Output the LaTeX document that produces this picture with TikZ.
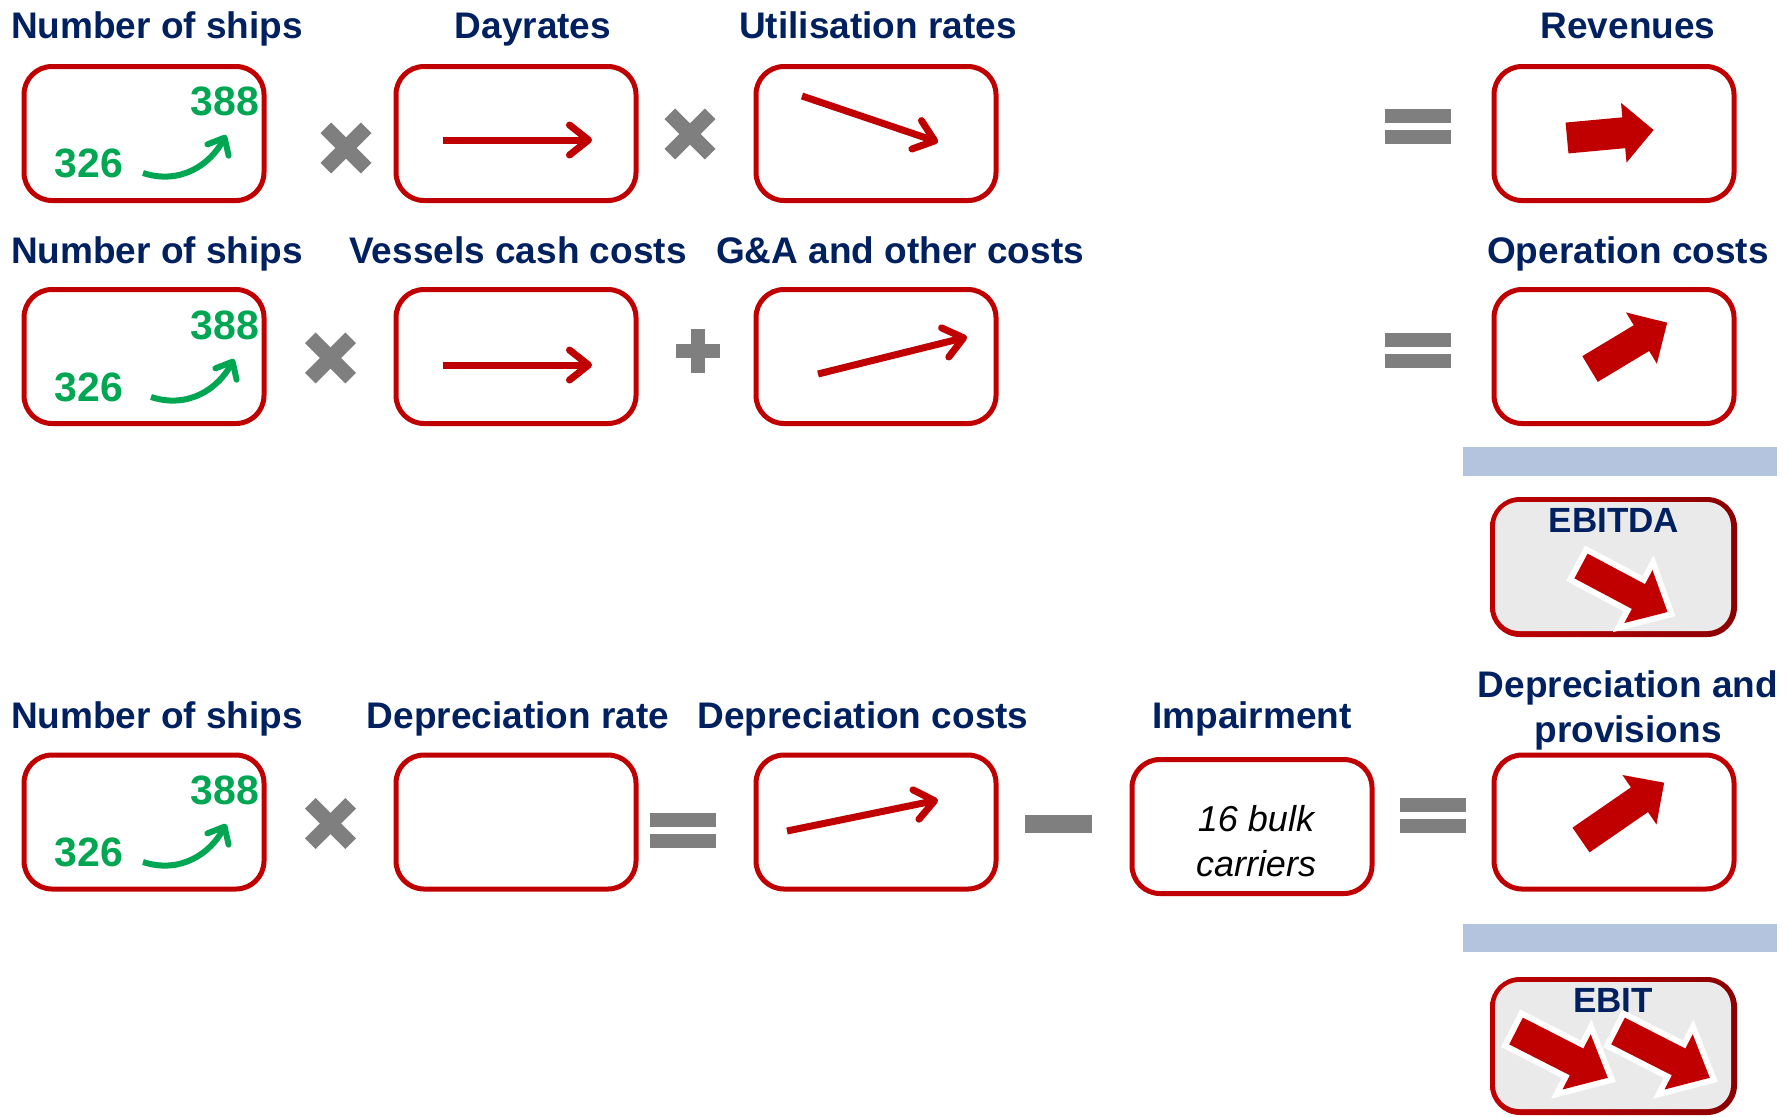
\documentclass[tikz,border=0pt]{standalone}
\usepackage{fontspec}
\setmainfont{Liberation Sans}
\usetikzlibrary{arrows.meta}
\definecolor{cred}{HTML}{C00000}
\definecolor{darkred}{HTML}{8A0000}
\definecolor{navy}{HTML}{002060}
\definecolor{cgreen}{HTML}{00A651}
\definecolor{opgray}{HTML}{7F7F7F}
\definecolor{barblue}{HTML}{B4C4DF}
\definecolor{boxgray}{HTML}{EAEAEA}
\newcommand\blkarrow[8]{%
  \path[#8, shift={(#1,#2)}, rotate=#3] (0,-#5/2) -- ({#4-#7},-#5/2) -- ({#4-#7},-#6/2) -- (#4,0) -- ({#4-#7},#6/2) -- ({#4-#7},#5/2) -- (0,#5/2) -- cycle;}
\newcommand\wblkarrow[7]{%
  \blkarrow{#1}{#2}{#3}{#4}{#5}{#6}{#7}{draw=white, fill=white, line width=6pt, miter limit=20}%
  \blkarrow{#1}{#2}{#3}{#4}{#5}{#6}{#7}{fill=cred}}
\newcommand\timessym[2]{%
  \fill[opgray, shift={(#1,#2)}, rotate=45] (-28.5,-7.5) rectangle (28.5,7.5);
  \fill[opgray, shift={(#1,#2)}, rotate=-45] (-28.5,-7.5) rectangle (28.5,7.5);}
\newcommand\eqsym[2]{%
  \fill[opgray] ({#1-33},{#2-17.5}) rectangle ({#1+33},{#2-3.5});
  \fill[opgray] ({#1-33},{#2+3.5}) rectangle ({#1+33},{#2+17.5});}
\begin{document}
\begin{tikzpicture}[x=0.5pt,y=-0.5pt,
  hd/.style={font=\fontsize{18.5}{22}\selectfont\bfseries, text=navy, anchor=base, inner sep=0pt},
  num/.style={font=\fontsize{20.5}{24}\selectfont\bfseries, text=cgreen, anchor=base, inner sep=0pt},
  rbox/.style={draw=cred, line width=2.5pt, rounded corners=14pt, minimum width=120pt, minimum height=67pt, inner sep=0pt},
  larr/.style={draw=cred, line width=3.5pt, -{Straight Barb[length=9.5pt,width=15pt,round]}},
  garr/.style={draw=cgreen, line width=3pt, -{Straight Barb[length=7pt,width=12pt,round]}},
  bigarr/.style={fill=cred}
]
\useasboundingbox (0,0) rectangle (1787,1116);

% ---------- headings ----------
\node[hd] (h11) at (157,38) {Number of ships};
\node[hd] (h12) at (533,38) {Dayrates};
\node[hd] (h13) at (878,38) {Utilisation rates};
\node[hd] (h14) at (1628,38) {Revenues};
\node[hd] (h21) at (157,263) {Number of ships};
\node[hd] (h22) at (518,263) {Vessels cash costs};
\node[hd] (h23) at (900,263) {G\&A and other costs};
\node[hd] (h24) at (1628,263) {Operation costs};
\node[hd] (h31) at (157,728) {Number of ships};
\node[hd] (h32) at (518,728) {Depreciation rate};
\node[hd] (h33) at (863,728) {Depreciation costs};
\node[hd] (h34) at (1252,728) {Impairment};
\node[hd] (h35a) at (1628,697) {Depreciation and};
\node[hd] (h35b) at (1628,742) {provisions};

% ---------- boxes ----------
\node[rbox] (b11) at (144,133.5) {};
\node[rbox] (b12) at (516,133.5) {};
\node[rbox] (b13) at (876,133.5) {};
\node[rbox] (b14) at (1614,133.5) {};
\node[rbox] (b21) at (144,356.5) {};
\node[rbox] (b22) at (516,356.5) {};
\node[rbox] (b23) at (876,356.5) {};
\node[rbox] (b24) at (1614,356.5) {};
\node[rbox] (b31) at (144,822) {};
\node[rbox] (b32) at (516,822) {};
\node[rbox] (b33) at (876,822) {};
\node[rbox] (b34) at (1252,826.5) {};
\node[rbox] (b35) at (1614,822) {};

% ---------- ships boxes content ----------
\begin{scope}[shift={(22,64)}]
  \node[num] (n388a) at (203,51) {388};
  \node[num] (n326a) at (67,113) {326};
  \draw[garr] (121,109) .. controls (158,121) and (188,101) .. (204,71);
\end{scope}
\begin{scope}[shift={(22,288)}]
  \node[num] (n388b) at (203,51) {388};
  \node[num] (n326b) at (67,113) {326};
  \draw[garr] (129,109) .. controls (166,121) and (196,101) .. (212,71);
\end{scope}
\begin{scope}[shift={(22,753)}]
  \node[num] (n388c) at (203,51) {388};
  \node[num] (n326c) at (67,113) {326};
  \draw[garr] (121,109) .. controls (158,121) and (188,101) .. (204,71);
\end{scope}

% ---------- line arrows ----------
\draw[larr] (443,140) -- (592,140);
\draw[larr] (802,96) -- (938,142);
\draw[larr] (443,365) -- (592,365);
\draw[larr] (818,374) -- (967,337);
\draw[larr] (787,831) -- (938,800);

% ---------- block arrows ----------
\blkarrow{1567}{138}{5.3}{87}{31}{60}{30}{bigarr}
\blkarrow{1590}{369}{31}{90}{30}{60}{30}{bigarr}
\blkarrow{1581}{840}{34.6}{101}{30}{60}{30}{bigarr}

% ---------- impairment text ----------
\node[font=\fontsize{18}{22.5}\selectfont\itshape, align=center, inner sep=0pt] (imp) at (1256,841) {16 bulk\\carriers};

% ---------- operators ----------
\timessym{346}{148}
\timessym{690}{134}
\eqsym{1418}{126}
\timessym{330.5}{358}
\fill[opgray] (676,344) rectangle (720,358);
\fill[opgray] (691,329) rectangle (705,373);
\eqsym{1418}{350.5}
\timessym{330.5}{823.5}
\eqsym{683}{830.5}
\fill[opgray] (1025,815) rectangle (1092,833);
\eqsym{1433}{815.5}

% ---------- blue bars ----------
\fill[barblue] (1463,447) rectangle (1777,476);
\fill[barblue] (1463,924) rectangle (1777,952);

% ---------- EBITDA ----------
\shade[rounded corners=15pt, left color=cred, right color=darkred] (1490,497) rectangle (1737,637);
\fill[boxgray, rounded corners=12pt] (1495,502) rectangle (1731,631);
\node[hd, font=\fontsize{17.5}{21}\selectfont\bfseries] (ebitda) at (1614,532) {EBITDA};
\wblkarrow{1581}{566}{-28}{98}{28}{60}{33}

% ---------- EBIT ----------
\shade[rounded corners=15pt, left color=cred, right color=darkred] (1490,977) rectangle (1737,1115);
\fill[boxgray, rounded corners=12pt] (1495,982) rectangle (1731,1109);
\node[hd, font=\fontsize{17.5}{21}\selectfont\bfseries] (ebit) at (1613,1012) {EBIT};
\wblkarrow{1516}{1031}{-27}{103}{30}{62}{35}
\wblkarrow{1618}{1031}{-27}{103}{30}{62}{35}
\end{tikzpicture}
\end{document}
